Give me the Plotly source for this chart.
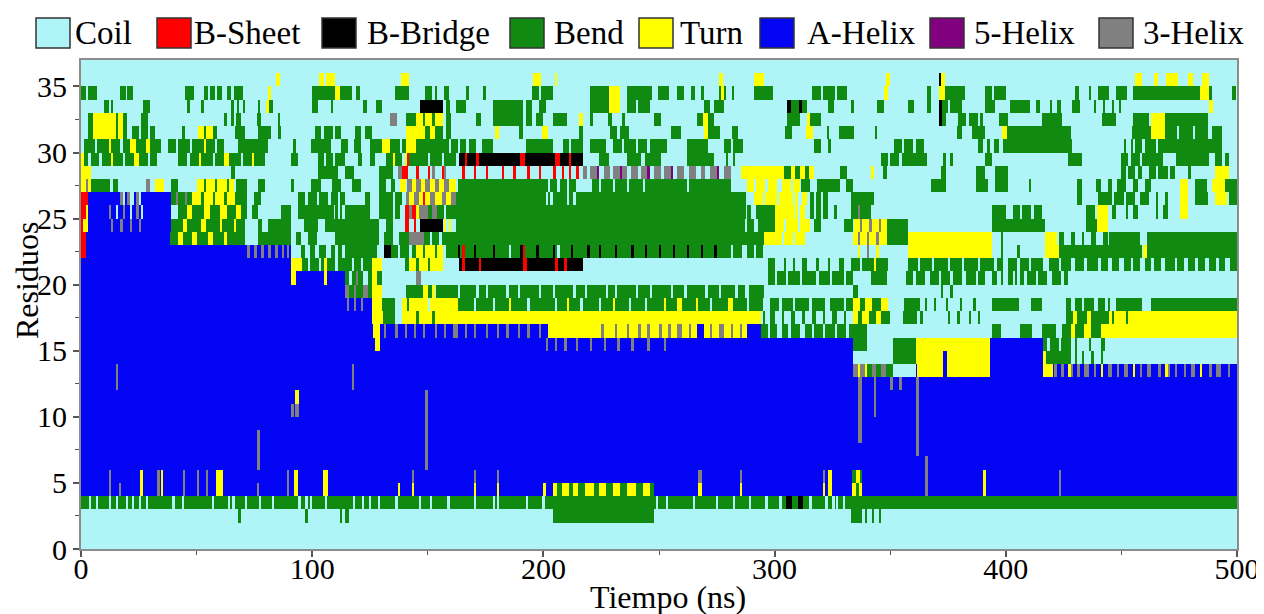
import numpy as np
import plotly.graph_objects as go

# ---------------- data ----------------
STATE_NAMES = ["Coil", "B-Sheet", "B-Bridge", "Bend", "Turn", "A-Helix", "5-Helix", "3-Helix"]
STATE_CODES = [".", "E", "B", "S", "T", "H", "I", "G"]
STATE_COLORS = ["#aff5f7", "#ff0000", "#000000", "#118a11", "#ffff00", "#0505f5", "#800080", "#808080"]

X_TICKS = [0, 100, 200, 300, 400, 500]
X_MINOR = [50, 150, 250, 350, 450]
Y_TICKS = [0, 5, 10, 15, 20, 25, 30, 35]
Y_MINOR = [2.5, 7.5, 12.5, 17.5, 22.5, 27.5, 32.5]
T_MAX = 500          # ns
N_RES = 37           # residue rows (0..36)

# secondary-structure segments per residue row: <code><t_start>-<t_end> (ns), later ones override
ROW_TOKENS = [
    "",
    "",
    "S68-69 S97-98 S112-113 S114-116 S204-248 S333-338 S339-340 S342-343 S345-346",
    "S0-500 .3.5-4.5 .6.5-7.5 .12-13 .15-16 .19.5-20.5 .22-23 .25-26 .28-29 .39.5-40.5 .43.5-44.5 .56.5-57.5 "
    ".63.5-64.5 .65.5-66.5 .71-72 .77-78 .82.5-83.5 .94-95 .97-98 .99-100 .105.5-106.5 .117.5-118.5 .121.5-122.5 "
    ".124.5-125.5 .128.5-129.5 .136-137 .146-147 .151-152 .158.5-159.5 .170-171 .178-179 .180-181 .192.5-193.5 "
    ".199.5-200.5 .248.5-249.5 .253-254 .264.5-265.5 .274.5-275.5 .282-283 .289-290 .296-297 .302-303 .315-316 "
    ".322-323 .325-326 .326.5-327.5 .329.5-330.5 B305-307.5 B310-312.5",
    "H0-500 T25.5-27 T34.5-35.6 T58.7-61.6 T91.8-94 T104.5-107 T137-138 T143-144 T170-171 T180-181 T200-201 "
    "T204-206 S206-208 T208-211 S211-213 T213-215 S215-218 T218-222 S222-224 T224-227 S227-230 T230-233 S233-236 "
    "T236-240 S240-243 T243-246 S246-248 T267-268.5 T285-286 T321-322 T323-325 T333.3-335 S335-336.5 T336.5-338 "
    "T390-391.5 G12-13 G16.5-17.5 G33-34 G44-45 G50-51 G54-55 G76-77 G89-90 G365-366.5 G423-424",
    "H0-500 T25.5-27 T34.5-35.6 T58.7-61.6 T91.8-94 T104.5-107 T323-325 S333.3-335 T335-337 S337-338 T390-391.5 "
    "G12-13 G33-34 G44-45 G50-51 G54-55 G89-90 G143-144 G170-171 G180-181 G267-268.5 G285-286 G321-322 "
    "G365-366.5 G423-424",
    "H0-500 G76-77.5 G149-150 G365-366.5",
    "H0-500 G76-77.5 G149-150 G361-362.5",
    "H0-500 G76-77.5 G149-150 G336-338 G361-362.5",
    "H0-500 G149-150 G336-338 G361-362.5",
    "H0-500 G91-92 G92.5-94.5 G149-150 G336-338 G343-344 G361-362.5",
    "H0-500 T92.5-94.5 G149-150 G336-338 G343-344 G361-362.5",
    "H0-500 G15-16 G117-118 G336-338 G343-344 G350-351 G354-355 G361-362.5",
    "H0-500 G15-16 G117-118 G334-336 T336-337 G337-339 T339-340 S340-342 G342-344 S344-346 G346-348 S348-351 "
    ".351-361 T361.4-372.9 T374.4-393 T416.2-420.5 G421-422 G424-425 T427-428 G428-429 G431-432 G434-436 "
    "G438-439 T441-442 G444-446 G448-449 G451-453 T455-456 G458-459 G461-463 G466-467 T469-470 G470-471 "
    "G473-474 G477-478 G480-482 T484-485 G488-489 G491-493 G496-497",
    "H0-500 .334-351 S351-361 T361-373 T374.4-393 T416-417.5 S417.5-428 .428-500 S430-431 S433-434 S437-438 S441-442",
    "H0-500 T127-129.5 G201-202 G205-206 G209-210 G214-215 G220-221 G226-227 G232-233 G238-239 G245-246 G252-253 "
    "S334-340 .340-351 S351-361 T361-393 S416-418 .418-419 S419-423 .423-424 S424-428 .428-500 S430-431 S436-437 S441-443",
    "H0-500 T126.5-129.5 G131-132 G136-137 G140-141 G144-145 G148-149 G153-154 G157-158 G161-163 G166-167 "
    "G170-171 G175-176 G180-181 G184-185 G189-190 G193-194 G198-199 T202-266.5 G225-226 G231-232 G236-237 "
    "G241-242 G245-246 G250-251.5 G254-255 G258-260 G263-264 T269.5-288 G272-273 G276-278 G281-282 G285-286 "
    "S294-297 .297-298 S298-301 .301-303 S303-306 .306-307 S307-311 .311-313 S313-316 .316-317 S317-321 .321-322 "
    "S322-326 .326-327 S327-331 .331-332 S332-340 .340-394 S394-398 .398-406 S406-411.3 .411.3-415.7 "
    "S415.7-421.4 .421.4-424.3 S424.3-428 T428-430 S430-434 T434-437 S437-441 T441-500",
    "H0-500 T126-130.5 S130.5-136 .136-139 T139-145 S145-146 T146-152 S152-153 T153-294 .294-500 S295-296 "
    "S298-300 S303-304 S307-309 S312-313 S316-318 S321-322 S325-327 S330-331 T334-336 S336-338 T338-341 "
    "S341-344 T344-346 S346-350 S355.6-361.4 S363-364 S375-376 S379-380 S384-385 S388-389 S426-429 T429-431 "
    "S431-435 T435-437 S437-444.5 T444.5-500 S446-447 S452-453",
    "H0-500 G115-116 G118-119 G121-122 T126-130 S130-136 .136-139 T139-141 S141-142 T142-150 .150-151 T151-163 "
    "S163-295 .170-171 .178-179 T185-186 .193-194 .205-206 T210-211 .216-217 .224-225 T230-231 .237-238 "
    ".244-245 T252-253 T258-260 T266-267 .272-273 T280-282 .288-289 .295-500 S298-302 S303-308 S309-315 "
    "S316-322 S324-330 S331-334 T334-337 S337-339 T339-342 S342-346 T346-349 S356-363 S365-366 S369-370 "
    "S374-375 S380-381 S386-387 S394-405.5 S411-415.6 S426-428 S430-433 S434-438 S440-443 S444-445 "
    "S447.4-459 S463-500",
    "H0-114 G114-116 S116-118 G118-119 S119-122 G122-124 S124-126 T126-130 S140.6-146 S146-148 T148-150 "
    "S150-152 T152-153 S153.5-157 S157-287 .163-164 .171-172 .175-176 .184-185 .189-190 .198-199 .204-205 "
    ".213-214 .218-219 .227-228 .231-232 .240-241 .246-247 .255-256 .261-262 .270-271 .276-277 .283-284 "
    "S289-295.4 S334-336 S372-373 S376-377",
    "H0-114 T91-93 T105-106.5 S114-116 S117-119 G119-120 S120-122 S124-126 T126-128 S128-130 G145-147 "
    "S297-300 S301-305 S306-311 S312-318 S319-324 S325-330 S331-334 S341.5-348.7 S357-360 S361-365 "
    "S367-371 S372-376 S377-381 S383-387 S388-391 S394-396 S398-399 S401-403 S404-405 S406-408 S409-413 "
    "S414-418 S420-424 S425-427",
    "H0-91 T91-95.3 S95.3-98 S99-103 S104-105 T105-106.5 S106.5-110 S111-114 S114-117 S118-121 S122-126 "
    "T126-130 S140-142 T142-145 S145-146 T146-150 S150-151 T151-156.5 B163.7-217 E165-166 E172-173 "
    "E191-193 E205-206.5 E209-210 "
    "S297-300 S304-305 S308-309 S312-314 S318-319 S323-324 S328-330 S333-337 S338-343 T343-344 S344-349 "
    "S357.4-500 .362-363 .368-369 .375-376 .381-382 .388-389 .395-396 .399-401 .405-406 .410-411 "
    ".416-418.5 .423-424 .428-430 .434-435 .440-441 .444-446 .449-451 .454-455 .458-460 .463-464 .467-469 "
    ".473-474 .477-479 .482-483 .486-488 .491-492 .495-497",
    "E0-2 H2-91 G72-73 G75-76 G78-79 G81-82 G84-85 G87-88 G89-90 S95-97 S99-101 S103-106 S108-110 S111-113 "
    "S114-128 B131-134 S134-137 S138-142 S143-145 T145-148 S148-149 T149-153 S153-154 T154-156.5 S158-278 "
    "B163-164 E165-166 B170-171 B178-179 .185-186 B190-191 E191-192 B197-198 B204-205 .206-207 B212-213 "
    "B219-220 B224-225 B231-232 B238-239 B244-245 B250-251 B256-257 B262-263 B268-269 B274-275 S278-281 "
    "S282-286 S288-291 S292-295 T336-337 G340-341 T344-345 T357.4-394 S398-399 S405-406 T417-423 S423-459 "
    "T459.6-461 S461-500",
    "E0-2 H2-38.5 S38.5-42 T42-44 S44-48 T48-50 S50-55 T55-57 S57-62 T62-63 S63-70.8 S76.5-91 S93-95 S98-102 "
    "S110-125 S125-129 S131-135 S137.7-142 G142-148.5 S148.5-151 S152-155 S156-158 S158-295.4 T295.4-303 "
    "T304-308 T309-313 T334-336 G336-337 T337-340 G340-341 T341-344 G344-345 T345-348.7 S348.7-357.4 "
    "T357.4-394 S398-399 T417-422 S423-425 S428-430 S433-434 S437-439 S442-444 S444.5-458 S461-500",
    "E0-1 T1-3 H3-39 G13-14 G17-18 G21-22 G25-26 S39-44 T44-46 S46-52 T52-54 S54-60 T60-61 S61-66 T66-67 "
    "S67-70.8 S76.5-78.5 S81-91 S96.7-102.5 S105.4-125 S125-129 S132-135 E140-142 E144-145 B146.4-156.5 "
    "T157-158 T159-160 S162.2-287 S288-291 S293-304 T300-304 T305-310 T311-315.5 S317-320 S330-334 "
    "T334.3-337 G337-338 T338-341 G341-342 T342-345 G345-346 T346-348.7 S348.7-357.4 S394-417 S434.4-439.5 T439.5-444",
    "E0-2 T2-3 H3-39 G12-13 .15-16 G18-19 .21-22 G24-25 .26-27 S42-46 T46-48 S48-53 T53-56 S56-60 T60-63 "
    "S63-67 T67-69 S69-72 S74-76.5 S86.7-91 S94-109.7 S110-111 S112-113 S114-125 S129-134 S134-135 S136-138 "
    "E140-142 G142-143 E143-145 T145-146 G146-148 G148-150 S150-152 G152-154 S154-157 S158-287.5 S288-290 "
    "S292-295.4 S295.4-300 T300-308.4 T309-310 T311-313 S315.5-317 S318-320 S321-323 S325.7-327 S333-336 "
    "G336-337 S337-341.5 S394-400 S403-406 S407-411 S412-415.7 S434.4-438.7 T439.5-444 S446-447.5 S452-453 "
    "S455-457 S465-466 S468-470 T475.5-479",
    "E0-3 H3-39 G17-18 .18-19 G20-21 .21-23 G24-25 .25-26 S39-41 G41-42 S42-45 G45-46 S46-48 T48-52 S52-53 "
    "T53-57 S57-58 T58-62 S62-63 T63-66.5 S66.5-72 S75-78 S94-97 S98-102 S103-107 S108-111 S112-114 S123-125 "
    "S129-134.8 S136-139 G140.6-142 T142-144 G144-146 T146-148 E148-149 T149-151 G151-153 T153-156 G156-158 "
    "T158-160 G160-162.2 S162.2-287.5 .201-202 .203-204 .210-211 .213-214 T291-295 T296-301 T302-308 "
    "T309-310 T312-314 S315.5-317 S318-320 S321-323 S333-343 S431-433 S440-446 S447-451 S452-456 S458-462 "
    "S465-466 S469-470 T475.5-479 S482-487.7 T490.6-495.7 S496.4-500",
    "T0-2 G2-3 T3-4.5 S4.5-12.4 S14-16 G28-30 T32-36.2 S39-42 T50-53 S53-54 T54-58 S58-59 T59-63 S63-64 "
    "T64-66 S67-72 S76.5-79.4 S91-92 S99.6-104 S108.3-112.6 S117-121 S129-132 S134-136 T138-140.6 G141-143 "
    "T143-145 G145-147 T147-149 G149-151 T151-153 G153-155 T155-157 G157-159 T159-162 S163-202 S203-206 "
    "S207-210 S211-214 S221-224 S225-230 S231-236 S237-243 S244-262 S263-281 T288-291 T292-296 T297-301 "
    "T303-307 T308-311 S311.3-315.5 S318.4-328.5 S331-334 S367.5-374 S387-392.6 S395.5-401 S410-411 "
    "S431-433 S439-441 S444-446 S448-452 S455-457 S460-463 T475.5-479 S482-487 T489-495 S495-500",
    "T0-4.5 S65-66.5 S102.5-111 S114-118 S129-134.8 G137-139 E139-141.5 E145-146 E150-151 G152-153 E156-157 "
    "G157-158 E165-166 E170-171 E175-176 E182-183 E187-188 E193-194 E198-199 E204-205.5 E208-209 E211-212 "
    "E214-215.6 G217-219 G220-223 I223-224 G226-229 G230-233 I233-234 G234-236 G238-241 G242-245 I245-246 "
    "G248-251 G252-255 I255-256 G258-261 G263-266 G268-270 G272-275 I275-276 G278-281 T285.3-304 S304-307 "
    "T307-309 S309-311 T311-313 S313-315 T315-317 S328.5-331.4 T341.5-343 S347-348.5 S372-374 S387-391 "
    "S395.5-401 S450-452 S453-456 S457-459 S462-465 S466-470 S471-473 S479-480 T490.6-496.4",
    "T0-1.5 S1.5-3 S4.5-8 S9-13 T13-14 S14-18 S19-23 T23-25 S25-29 S30-33 S42-46 S47-51 T51-52 S52-57 S58-62 "
    "T62-64 S64-69 S70-74 T74-75 S75-79.4 S91-94 S102.5-105 S106-109 S110-114 S120-121.5 S125-127 S132-135 "
    "T135-136 S136-139 T140-141 E141-142 S142-146.4 S146.4-150 S151-156 S157-162 B163.7-217 E166-167 "
    "E171-172 E190-192 E205-207 E211-212 S224-228.5 "
    "S236-242 S244-251 S262-274 S279-280 S282-283 S346-349 S350-354 S355-366 S373-374 S376-377 S391-394 "
    "S427-433 S450-453 S454-458 S459-468 S473.3-488 S490.6-493.5 S495-496.5",
    "S1.6-6 S7-12 T12-13 S13-17 S18-21 T21-24 S24-28 T28-30 S30-34.7 S37.6-41 S42-47 S48-53 T53-54 S54-58 "
    "S59-62 S68-81 S91.5-93 S99.6-108 S112.6-115.5 S118-121 S125-130 T130-133.4 S133.4-138 S139-140.6 "
    "T140.6-145 S145-159 S160-163 S164-166.5 S168-171 S173.7-178 S192.5-204 S208.4-211 S212-217 S220-227 "
    "S230-234 S235-240 S241-245 S246-253.6 S262.2-270.9 S278-281 S282-286.7 S317-320 S323-324.4 "
    "S351.6-355 S356-360 S361-364.6 S388-390 S392-393 S395-397 S399-428.6 S451-452 S454-455 S456-459 "
    "S460-465 S466-493.5",
    "S3-5 T5-13 T13-15 S15-16 T16-18 S18-20 S21.8-25 S26-29 S30-32 S43.4-45 T50.6-53 S53-54 T54-57 S57-59 "
    "S66.5-71 S76.5-82 S85-86.5 S101-104 S105-109 S110-112.6 S118.4-121 S123-126 T140.6-149 S149-151 "
    "T151-153 S153-156.5 S158-160 T178.8-181 S189.6-191 T199.7-202 S215.5-217 S229-232 S233-237.2 "
    "S255-259.3 T269.5-271 S271-276.6 S281.7-283.8 S304.7-307.6 T313.4-316.3 S322.7-323.5 S327.8-334.3 "
    "S343.7-344.6 S379-381 S385.4-391.2 T398.3-400.5 S400.5-428 S454.6-463.2 T463.2-469 S469-474 "
    "S475-481 S482-487.7 S489-493.5",
    "S3-5 T5-13 T13-15 S15-16 T16-18 S18-20 S26-29 S62-63 S65-66 S67-69 S76-78 S85-86 G133.4-136.3 "
    "S140.6-145 T145-148 S148-149 T149-152 S152-153 T153-156.5 S158-160 S171-173 S178-191 S192.5-195 "
    "S197-200 S204-210 T215.6-217 S220-221.5 S228-229.5 S234-235.5 S248-251 S266.5-269 T269-271 S271-274 "
    "S305.5-311.2 T314-315.5 S315.5-320 B371-372.5 S372.5-374 S379.6-383 S384-388 S389-390 S397-401 "
    "S415.7-424.3 S441.6-447.4 S455-462 T463.2-469 S469-487.7",
    "S10-12 S13-14 S27-30 S46-47 S52-53 S65-66 S67.5-68.5 S70-71 S76.5-77.5 T80-81.5 S81.5-83 S100-102.5 "
    "S108-109 S122-123.5 S127.6-129.8 B146.4-156.5 S158-159.5 S162-166.5 S178-191 S192.5-195 S198-201 "
    "S220-228.5 T228.5-233 S236-240 S241-246 S269.5-272 S274-278 B305.5-307 S307-310.5 B310.5-312 "
    "S312-314 S322.8-325.7 S332.8-334.3 S344.4-347.3 S357.4-360.3 S366-367.5 B371-372.5 S372.5-375 "
    "S376-381 S391-395.5 S402-410.6 S413-415 S419-420 S422-424 S428.6-432.2 S438-439 S442-443 S446-447 "
    "S449-450 T488-489.5",
    "S0-2 S3-7 S17-19.5 S20-22.5 S45-49 S53-55 S56-58 S59-61 S63-65 S66-70 T81-82 S100-110 T110-112 "
    "S112-117 S119-120.5 S136-142 S149-152 S153-154 S157-159 S166.5-168 S174-175 S195-198 S199-204 "
    "S220-228.5 T228.5-233 S236-247 S249.5-254.3 S258-261 S264-265.5 S268-269.5 S276-277 T277-278 "
    "S278-279 S281.5-282.5 S291-299.7 S316-320 S321-326 S327-331.4 T347.3-349 S366-367.5 T371-373.5 "
    "S373.5-382.5 S391-394 S395-400 S430-431.5 S436-437 S440-444.5 S447.4-452.5 S455-484 T484-488 "
    "S488-489 S498-499.5",
    "T84.5-86 T103-105 T106-110 T138.5-142 T195.5-199 T205-206 T276-277.5 T291-295.4 T348-350 B371-372.5 "
    "T372-373.5 T456-459 T464-466 T469.7-474.7 T479-481 T485-488",
    "",
]

# ---------------- build grid ----------------
CELLS_PER_NS = 2
n_cols = T_MAX * CELLS_PER_NS
grid = np.zeros((N_RES, n_cols), dtype=int)
for r, row in enumerate(ROW_TOKENS):
    for tok in row.split():
        code = tok[0]
        a, b = tok[1:].split("-")
        i0 = int(round(float(a) * CELLS_PER_NS))
        i1 = int(round(float(b) * CELLS_PER_NS))
        grid[r, i0:i1] = STATE_CODES.index(code)

x_centers = (np.arange(n_cols) + 0.5) / CELLS_PER_NS
y_centers = np.arange(N_RES) + 0.5

n = len(STATE_COLORS)
colorscale = []
for i, c in enumerate(STATE_COLORS):
    colorscale.append([i / n, c])
    colorscale.append([(i + 1) / n, c])

fig = go.Figure()
fig.add_trace(go.Heatmap(
    x=x_centers, y=y_centers, z=grid,
    colorscale=colorscale, zmin=-0.5, zmax=n - 0.5,
    showscale=False, hoverinfo="skip",
))

# ---------------- layout ----------------
# the page body has an 8 px default margin, so the figure is drawn 8 px down/right
PAGE_OFF = 8
PAGE_W, PAGE_H = 1264, 614
PLOT_X0, PLOT_X1, PLOT_Y0, PLOT_Y1 = 81, 1237, 60, 549   # plot area in page pixels
W, H = PAGE_W - PAGE_OFF, PAGE_H - PAGE_OFF
L = PLOT_X0 - PAGE_OFF
R = PAGE_W - PLOT_X1
T = PLOT_Y0 - PAGE_OFF
B = PAGE_H - PLOT_Y1
PW, PH = PLOT_X1 - PLOT_X0, PLOT_Y1 - PLOT_Y0


def px_x(px):
    return (px - PLOT_X0) / PW


def px_y(py):
    return (PLOT_Y1 - py) / PH


FONT = "Times New Roman, Liberation Serif, serif"
AXCOL = "#8c8c8c"
TICKCOL = "#555555"

fig.update_layout(
    width=W, height=H,
    margin=dict(l=L, r=R, t=T, b=B, autoexpand=False),
    paper_bgcolor="white", plot_bgcolor=STATE_COLORS[0],
    font=dict(family=FONT, color="black"),
    showlegend=False,
)
fig.update_xaxes(
    range=[0, T_MAX], tickvals=X_TICKS, ticks="outside", ticklen=6, tickwidth=1.5, tickcolor=TICKCOL,
    showline=True, linecolor=AXCOL, linewidth=2, mirror=True, showgrid=False, zeroline=False,
    automargin=False,
    tickfont=dict(family=FONT, size=30, color="black"), ticklabelstandoff=-14,
    minor=dict(tickvals=X_MINOR, ticks="outside", ticklen=4, tickwidth=1.2, tickcolor=TICKCOL),
)
fig.update_yaxes(
    range=[0, N_RES], tickvals=Y_TICKS, ticks="outside", ticklen=6, tickwidth=1.5, tickcolor=TICKCOL,
    showline=True, linecolor=AXCOL, linewidth=2, mirror=True, showgrid=False, zeroline=False,
    automargin=False,
    tickfont=dict(family=FONT, size=30, color="black"),
    minor=dict(tickvals=Y_MINOR, ticks="outside", ticklen=4, tickwidth=1.2, tickcolor=TICKCOL),
)

annotations = [
    dict(text="Tiempo (ns)", xref="paper", yref="paper", x=px_x(668), y=px_y(597),
         xanchor="center", yanchor="middle", showarrow=False, font=dict(family=FONT, size=32, color="black")),
    dict(text="Residuos", xref="paper", yref="paper", x=px_x(27), y=px_y(281), textangle=-90,
         xanchor="center", yanchor="middle", showarrow=False, font=dict(family=FONT, size=32, color="black")),
]
shapes = []

LEGEND_BOX_X = [36, 157, 322, 510, 639, 760, 930, 1099]
LEGEND_TEXT_X = [73, 192, 365, 552, 678, 805, 972, 1141]
BOX_W, BOX_Y0, BOX_Y1, TEXT_Y = 34, 18, 48, 33
for name, col, bx, tx in zip(STATE_NAMES, STATE_COLORS, LEGEND_BOX_X, LEGEND_TEXT_X):
    shapes.append(dict(type="rect", xref="paper", yref="paper",
                       x0=px_x(bx), x1=px_x(bx + BOX_W), y0=px_y(BOX_Y1), y1=px_y(BOX_Y0),
                       fillcolor=col, line=dict(color="#333333", width=1.5), layer="above"))
    annotations.append(dict(text=name, xref="paper", yref="paper", x=px_x(tx), y=px_y(TEXT_Y),
                            xanchor="left", yanchor="middle", showarrow=False,
                            font=dict(family=FONT, size=33, color="black")))

fig.update_layout(annotations=annotations, shapes=shapes)
fig.write_html("out.html")
